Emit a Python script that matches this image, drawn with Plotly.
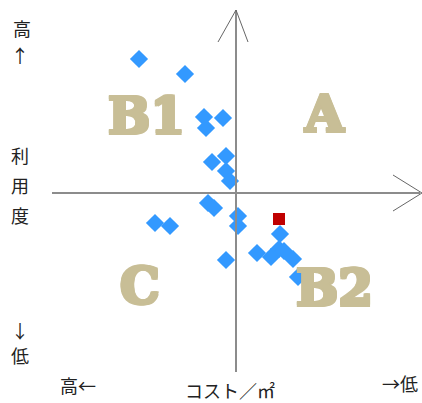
import plotly.graph_objects as go

# cost per m2 (right = cheaper) vs utilisation (up = higher), arbitrary units centred on the axes
cost_x = [-9.7, -5.1, -3.2, -3.0, -1.3, -2.4, -1.0, -1.0, -0.6, -2.8, -2.2, 0.2, 0.2,
          -8.1, -6.6, -1.0, 2.1, 3.5, 4.4, 4.3, 4.8, 5.7, 6.2]
usage_y = [13.4, 11.9, 7.6, 6.5, 7.5, 3.1, 3.7, 2.2, 1.2, -1.0, -1.5, -2.3, -3.3,
           -3.0, -3.3, -6.7, -6.0, -6.4, -4.1, -5.6, -5.8, -6.6, -8.4]
target_x = [4.3]
target_y = [-2.6]

quadrants = ["A", "B1", "B2", "C"]
quad_x = [8.8, -9.0, 9.8, -9.6]
quad_y = [8.0, 7.8, -9.4, -9.2]

blue = "#3399FF"
red = "#C00000"
sand = "#C8BE96"
axis_gray = "#8C8C8C"
arrow_gray = "#666666"
jp_font = "Noto Sans CJK JP"

fig = go.Figure()
fig.add_trace(go.Scatter(
    x=cost_x, y=usage_y, mode="markers",
    marker=dict(symbol="diamond", size=14, color=blue),
    hoverinfo="skip", showlegend=False
))
fig.add_trace(go.Scatter(
    x=target_x, y=target_y, mode="markers",
    marker=dict(symbol="square", size=12, color=red),
    hoverinfo="skip", showlegend=False
))

# axes with open arrowheads
shapes = [
    dict(type="line", x0=0, x1=0, y0=-17.9, y1=18.3, line=dict(color=axis_gray, width=2)),
    dict(type="line", x0=-18.4, x1=18.4, y0=0, y1=0, line=dict(color=axis_gray, width=2)),
    dict(type="path", path="M -1.8,15.1 L 0,18.3 L 1.2,15.1", line=dict(color=arrow_gray, width=1)),
    dict(type="path", path="M 15.7,1.8 L 18.6,0 L 15.7,-1.8", line=dict(color=arrow_gray, width=1)),
]

# fake a heavy display face by thickening bold serif with a ring of shadows
thick = ", ".join(f"{dx}px {dy}px 0 {sand}" for dx in (-1.5, 0, 1.5) for dy in (-1.5, 0, 1.5))

annotations = []
for q, qx, qy in zip(quadrants, quad_x, quad_y):
    annotations.append(dict(
        x=qx, y=qy, text=q, showarrow=False,
        font=dict(family="DejaVu Serif", size=50, color=sand, weight=900, shadow=thick)
    ))

side_labels = [
    ("高", -21.4, 16.5), ("↑", -21.6, 13.8),
    ("利", -21.6, 3.8), ("用", -21.6, 0.8), ("度", -21.6, -2.2),
    ("↓", -21.6, -13.7), ("低", -21.6, -16.2),
    ("高←", -15.8, -19.2), ("コスト／㎡", -0.6, -19.7), ("→低", 16.4, -19.0),
]
for t, tx, ty in side_labels:
    annotations.append(dict(
        x=tx, y=ty, text=t, showarrow=False,
        font=dict(family=jp_font, size=18, color="#222222")
    ))

fig.update_layout(
    width=422, height=403,
    margin=dict(l=0, r=0, t=0, b=0),
    plot_bgcolor="white", paper_bgcolor="white",
    xaxis=dict(range=[-23.6, 18.6], visible=False, fixedrange=True),
    yaxis=dict(range=[-21.0, 19.3], visible=False, fixedrange=True),
    shapes=shapes,
    annotations=annotations,
)

fig.write_html(
    "out.html",
    config={"displayModeBar": False},
    post_script="document.body.style.margin='0';",
)
